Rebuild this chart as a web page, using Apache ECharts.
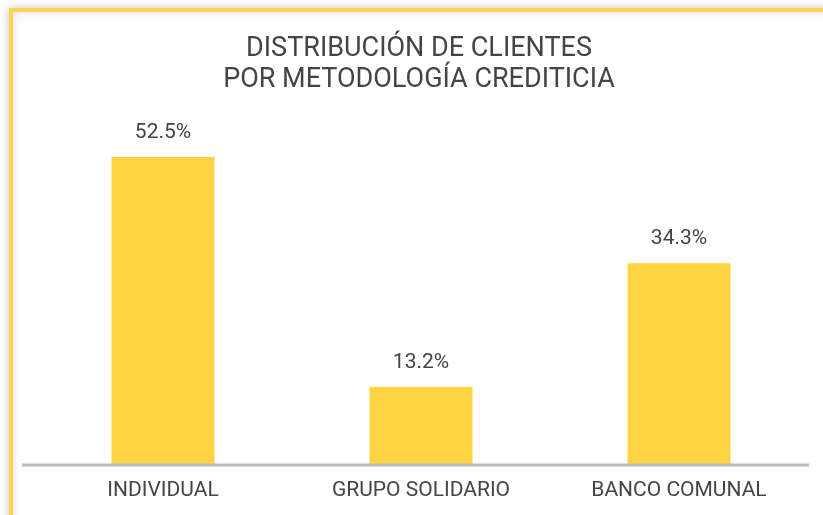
<!DOCTYPE html>
<html>
<head>
<meta charset="utf-8">
<script src="https://cdn.jsdelivr.net/npm/echarts@6/dist/echarts.min.js"></script>
<style>
  html, body { margin: 0; padding: 0; background: #fff; }
  #chart { width: 823px; height: 515px; }
</style>
</head>
<body>
<div id="chart"></div>
<script>
  const categories = ['INDIVIDUAL', 'GRUPO SOLIDARIO', 'BANCO COMUNAL'];
  const shares = [52.5, 13.2, 34.3];

  var myChart = echarts.init(document.getElementById('chart'));

  var option = {
    backgroundColor: '#ffffff',
    animation: false,
    title: {
      text: 'DISTRIBUCIÓN DE CLIENTES\nPOR METODOLOGÍA CREDITICIA',
      left: 414,
      textAlign: 'center',
      top: 29,
      textStyle: {
        fontFamily: 'Roboto',
        fontWeight: 'normal',
        fontSize: 27,
        lineHeight: 31,
        color: '#444'
      }
    },
    graphic: [
      {
        // card with yellow frame
        type: 'rect',
        z: -10,
        silent: true,
        shape: { x: 11, y: 10, width: 900, height: 600 },
        style: {
          fill: '#fff',
          stroke: '#FDD54B',
          lineWidth: 4,
          shadowBlur: 10,
          shadowColor: 'rgba(0,0,0,0.18)'
        }
      },
      {
        // baseline across the card
        type: 'line',
        z: 10,
        silent: true,
        shape: { x1: 22, y1: 465, x2: 809, y2: 465 },
        style: { stroke: '#bbbbbb', lineWidth: 3 }
      }
    ],
    grid: {
      left: 34,
      right: 15,
      top: 113,
      bottom: 51
    },
    xAxis: {
      type: 'category',
      data: categories,
      axisLine: { show: false },
      axisTick: { show: false },
      axisLabel: {
        margin: 16,
        fontFamily: 'Roboto',
        fontSize: 21,
        color: '#444'
      }
    },
    yAxis: {
      type: 'value',
      min: 0,
      max: 60,
      show: false,
      splitLine: { show: false }
    },
    series: [{
      type: 'bar',
      data: shares,
      barWidth: 103,
      itemStyle: { color: '#FDD344' },
      label: {
        show: true,
        position: 'top',
        distance: 14,
        fontFamily: 'Roboto',
        fontSize: 21,
        color: '#444',
        formatter: p => p.value.toFixed(1) + '%'
      }
    }]
  };

  myChart.setOption(option);
</script>
</body>
</html>
